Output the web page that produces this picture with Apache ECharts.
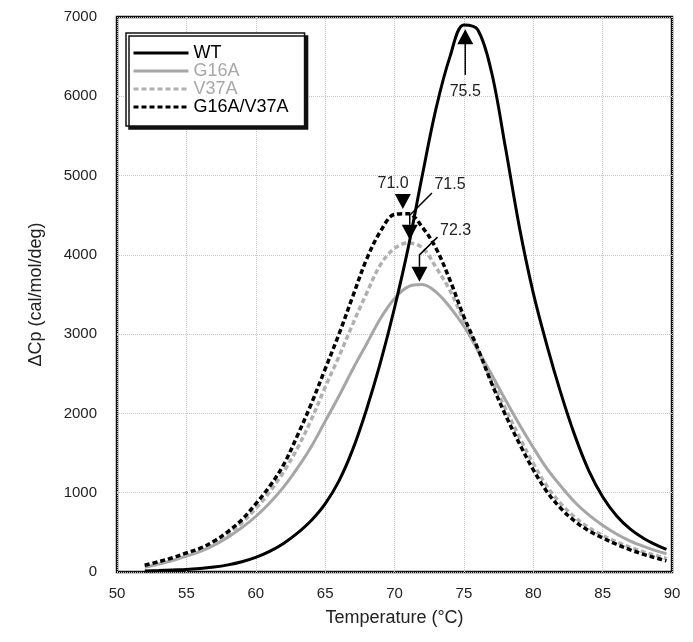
<!DOCTYPE html>
<html>
<head>
<meta charset="utf-8">
<script src="https://cdn.jsdelivr.net/npm/echarts@6/dist/echarts.min.js"></script>
<style>
html,body{margin:0;padding:0;background:#fff;}
#chart{width:693px;height:642px;}
</style>
</head>
<body>
<div id="chart"></div>
<script>
// ---- data ----
var temps = [52,53,54,55,56,57,58,59,60,61,62,63,64,65,66,67,68,69,70,71,72,73,74,75,76,77,78,79,80,81,82,83,84,85,86,87,88,89,89.6];
var wtCp = [12,18,25,32,45,62,90,130,185,260,360,490,650,860,1150,1550,2060,2650,3330,4100,5000,5850,6500,6900,6840,6300,5350,4350,3520,2850,2250,1720,1280,950,710,540,420,330,285];
var g16aCp = [60,100,145,200,260,340,440,560,700,870,1070,1310,1580,1900,2220,2560,2880,3200,3450,3600,3625,3530,3340,3100,2800,2490,2170,1860,1570,1300,1080,880,720,590,480,390,320,260,230];
var v37aCp = [80,120,165,220,285,370,480,620,800,1010,1260,1560,1920,2330,2720,3130,3520,3880,4080,4150,4090,3840,3550,3170,2800,2420,2060,1700,1370,1080,860,690,560,460,380,310,250,200,170];
var dblCp = [85,130,180,240,300,390,510,660,860,1080,1350,1720,2120,2560,3000,3480,3950,4300,4510,4520,4350,4080,3680,3220,2820,2380,1980,1620,1290,1010,800,640,520,430,350,280,220,170,140];
var seriesNames = ['WT','G16A','V37A','G16A/V37A'];
var xTicks = {min:50, max:90, interval:5};
var yTicks = {min:0, max:7000, interval:1000};

// annotations (Tm arrows)
var annLabels = ['75.5','71.0','71.5','72.3'];
var annTipT = [75.1, 70.6, 71.1, 71.8];
var annTipCp = [6847, 4578, 4190, 3660];
var annDirs = ['up','down','down','down'];
var annLabelT = [75.1, 69.9, 74.0, 74.4];
var annLabelCp = [6065, 4905, 4880, 4300];
var annLeaders = [
  [[75.1,6680],[75.1,6270]],
  [],
  [[72.7,4780],[71.1,4500],[71.1,4380]],
  [[73.1,4224],[71.8,4000],[71.8,3850]]
];

function pairs(vals){ return temps.map(function(t,i){ return [t, vals[i]]; }); }

var font = "'Liberation Sans', Arial, Helvetica, sans-serif";
var chart = echarts.init(document.getElementById('chart'), null, {renderer:'canvas'});

var option = {
  backgroundColor:'#fff',
  animation:false,
  grid:{left:117, right:21, top:17, bottom:70, show:true, borderColor:'#111', borderWidth:2.5, backgroundColor:'transparent'},
  legend:{
    orient:'vertical', left:126, top:33,
    padding:[11,16,10,6],
    itemWidth:55, itemHeight:16, itemGap:0,
    backgroundColor:'#fff', borderColor:'#111', borderWidth:1.5,
    shadowColor:'#111', shadowOffsetX:3, shadowOffsetY:3, shadowBlur:0.1,
    itemStyle:{opacity:0},
    lineStyle:{width:3},
    textStyle:{fontSize:18, fontFamily:font},
    data:[
      {name:'WT', textStyle:{color:'#000'}},
      {name:'G16A', textStyle:{color:'#a8a8a8'}},
      {name:'V37A', textStyle:{color:'#a8a8a8'}},
      {name:'G16A/V37A', textStyle:{color:'#000'}}
    ]
  },
  xAxis:{
    type:'value', min:xTicks.min, max:xTicks.max, interval:xTicks.interval,
    name:'Temperature (°C)', nameLocation:'middle', nameGap:37,
    nameTextStyle:{fontSize:18, color:'#222', fontFamily:font},
    axisLine:{show:false}, axisTick:{show:false},
    axisLabel:{fontSize:15, color:'#222', margin:14, fontFamily:font},
    splitLine:{show:true, lineStyle:{color:'#c8c8c8', type:'dotted', width:1}}
  },
  yAxis:{
    type:'value', min:yTicks.min, max:yTicks.max, interval:yTicks.interval,
    name:'ΔCp (cal/mol/deg)', nameLocation:'middle', nameGap:72,
    nameTextStyle:{fontSize:18, color:'#222', fontFamily:font},
    axisLine:{show:false}, axisTick:{show:false},
    axisLabel:{fontSize:15, color:'#222', margin:20, fontFamily:font, formatter:function(v){return String(v);}},
    splitLine:{show:true, lineStyle:{color:'#c8c8c8', type:'dotted', width:1}}
  },
  series:[
    {name:seriesNames[1], type:'line', data:pairs(g16aCp), smooth:0.35, symbol:'none', z:2,
     lineStyle:{color:'#a6a6a6', width:3, type:'solid'}, itemStyle:{color:'#a6a6a6'}},
    {name:seriesNames[2], type:'line', data:pairs(v37aCp), smooth:0.35, symbol:'none', z:3,
     lineStyle:{color:'#b0b0b0', width:3.5, type:[5,3]}, itemStyle:{color:'#b0b0b0'}},
    {name:seriesNames[3], type:'line', data:pairs(dblCp), smooth:0.35, symbol:'none', z:4,
     lineStyle:{color:'#000', width:3.5, type:[5,3]}, itemStyle:{color:'#000'}},
    {name:seriesNames[0], type:'line', data:pairs(wtCp), smooth:0.35, symbol:'none', z:5,
     lineStyle:{color:'#000', width:3, type:'solid'}, itemStyle:{color:'#000'}},
    {
      type:'custom', silent:true, z:10,
      data: annTipT.map(function(t,i){ return [t, annTipCp[i]]; }),
      encode:{x:0, y:1},
      renderItem:function(params, api){
        var i = params.dataIndex;
        var tip = api.coord([annTipT[i], annTipCp[i]]);
        var s = annDirs[i] === 'up' ? 1 : -1;
        var children = [];
        children.push({type:'polygon', shape:{points:[[tip[0]-8, tip[1]+15*s],[tip[0]+8, tip[1]+15*s],[tip[0], tip[1]]]}, style:{fill:'#000'}});
        var lead = annLeaders[i];
        if (lead.length){
          children.push({type:'polyline', shape:{points:lead.map(function(p){return api.coord(p);})}, style:{stroke:'#000', lineWidth:1.5, fill:null}});
        }
        var lp = api.coord([annLabelT[i], annLabelCp[i]]);
        children.push({type:'text', x:lp[0], y:lp[1], style:{text:annLabels[i], fill:'#222', font:'16px '+font, align:'center', verticalAlign:'middle'}});
        return {type:'group', children:children};
      }
    }
  ]
};
chart.setOption(option);
</script>
</body>
</html>
